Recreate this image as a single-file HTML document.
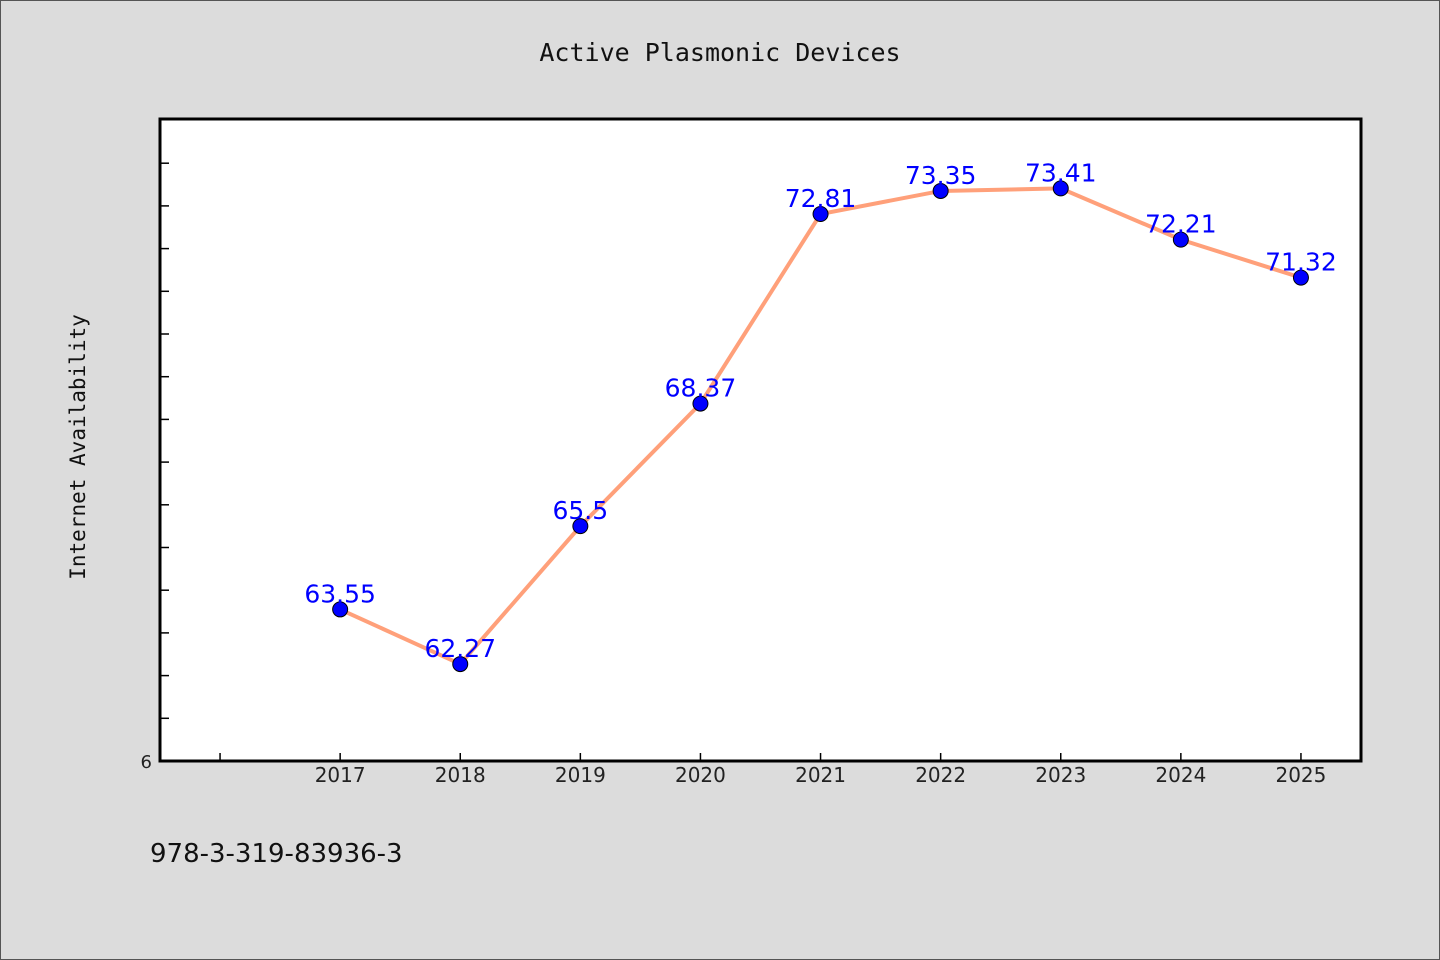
<!DOCTYPE html>
<html><head><meta charset="utf-8"><style>
html,body{margin:0;padding:0;background:#dcdcdc;}
svg{display:block;}
</style></head><body>
<svg width="1440" height="960" xmlns="http://www.w3.org/2000/svg">
<rect x="0.5" y="0.5" width="1439" height="959" fill="#dcdcdc" stroke="#555"/>
<text x="720" y="61" text-anchor="middle" font-family="'DejaVu Sans Mono','Liberation Mono',monospace" font-size="25" fill="#111">Active Plasmonic Devices</text>
<rect x="160" y="120" width="1201" height="641" fill="#fff"/>
<g id="ticks"></g>
<g id="series"></g>
<path d="M160,119 V761 H1361 V119 Z" fill="none" stroke="#000" stroke-width="3"/>
<text transform="translate(85,447) rotate(-90)" text-anchor="middle" font-family="'DejaVu Sans Mono','Liberation Mono',monospace" font-size="21" fill="#111">Internet Availability</text>
<text x="150" y="862" font-family="'DejaVu Sans','Liberation Sans',sans-serif" font-size="26" fill="#111">978-3-319-83936-3</text>
</svg>
<script>
const years = [2017,2018,2019,2020,2021,2022,2023,2024,2025];
const values = [63.55,62.27,65.5,68.37,72.81,73.35,73.41,72.21,71.32];
const labels = ["63.55","62.27","65.5","68.37","72.81","73.35","73.41","72.21","71.32"];
const xTicks = [2016,2017,2018,2019,2020,2021,2022,2023,2024,2025];
const yTicks = [60,61,62,63,64,65,66,67,68,69,70,71,72,73,74];
const NS="http://www.w3.org/2000/svg";
const x = v => 160 + (v-2015.5)*120.1;
const y = v => 761 - (v-60)*42.7;
function mk(tag, attrs, parent){const e=document.createElementNS(NS,tag);for(const k in attrs)e.setAttribute(k,attrs[k]);parent.appendChild(e);return e;}
const tg=document.getElementById('ticks');
yTicks.forEach(t=>{
  const l=mk('line',{x1:160,x2:169,y1:y(t),y2:y(t),stroke:'#000','stroke-width':1.5},tg);
  
  
});
const yl=mk('text',{x:152,y:y(60)+7,'text-anchor':'end','font-family':"'DejaVu Sans',sans-serif",'font-size':18,fill:'#222'},tg);
yl.textContent='6';


xTicks.forEach(t=>{
  const l=mk('line',{x1:x(t),x2:x(t),y1:761,y2:753,stroke:'#000','stroke-width':1.5},tg);
  
  
});
years.forEach(t=>{
  const tx=mk('text',{x:x(t),y:782,'text-anchor':'middle','font-family':"'DejaVu Sans',sans-serif",'font-size':20,fill:'#222'},tg);
  tx.textContent=String(t);
  
  
});
const sg=document.getElementById('series');
const line=mk('polyline',{points:years.map((t,i)=>x(t)+','+y(values[i])).join(' '),fill:'none',stroke:'#ffa07a','stroke-width':4},sg);


years.forEach((t,i)=>{
  const c=mk('circle',{cx:x(t),cy:y(values[i]),r:7.5,fill:'#0000ff',stroke:'#000','stroke-width':1},sg);
  
  
});
years.forEach((t,i)=>{
  const tx=mk('text',{x:x(t),y:y(values[i])-7,'text-anchor':'middle','font-family':"'DejaVu Sans',sans-serif",'font-size':25,fill:'#0000ff'},sg);
  tx.textContent=labels[i];
  
  
});
</script>
</body></html>
